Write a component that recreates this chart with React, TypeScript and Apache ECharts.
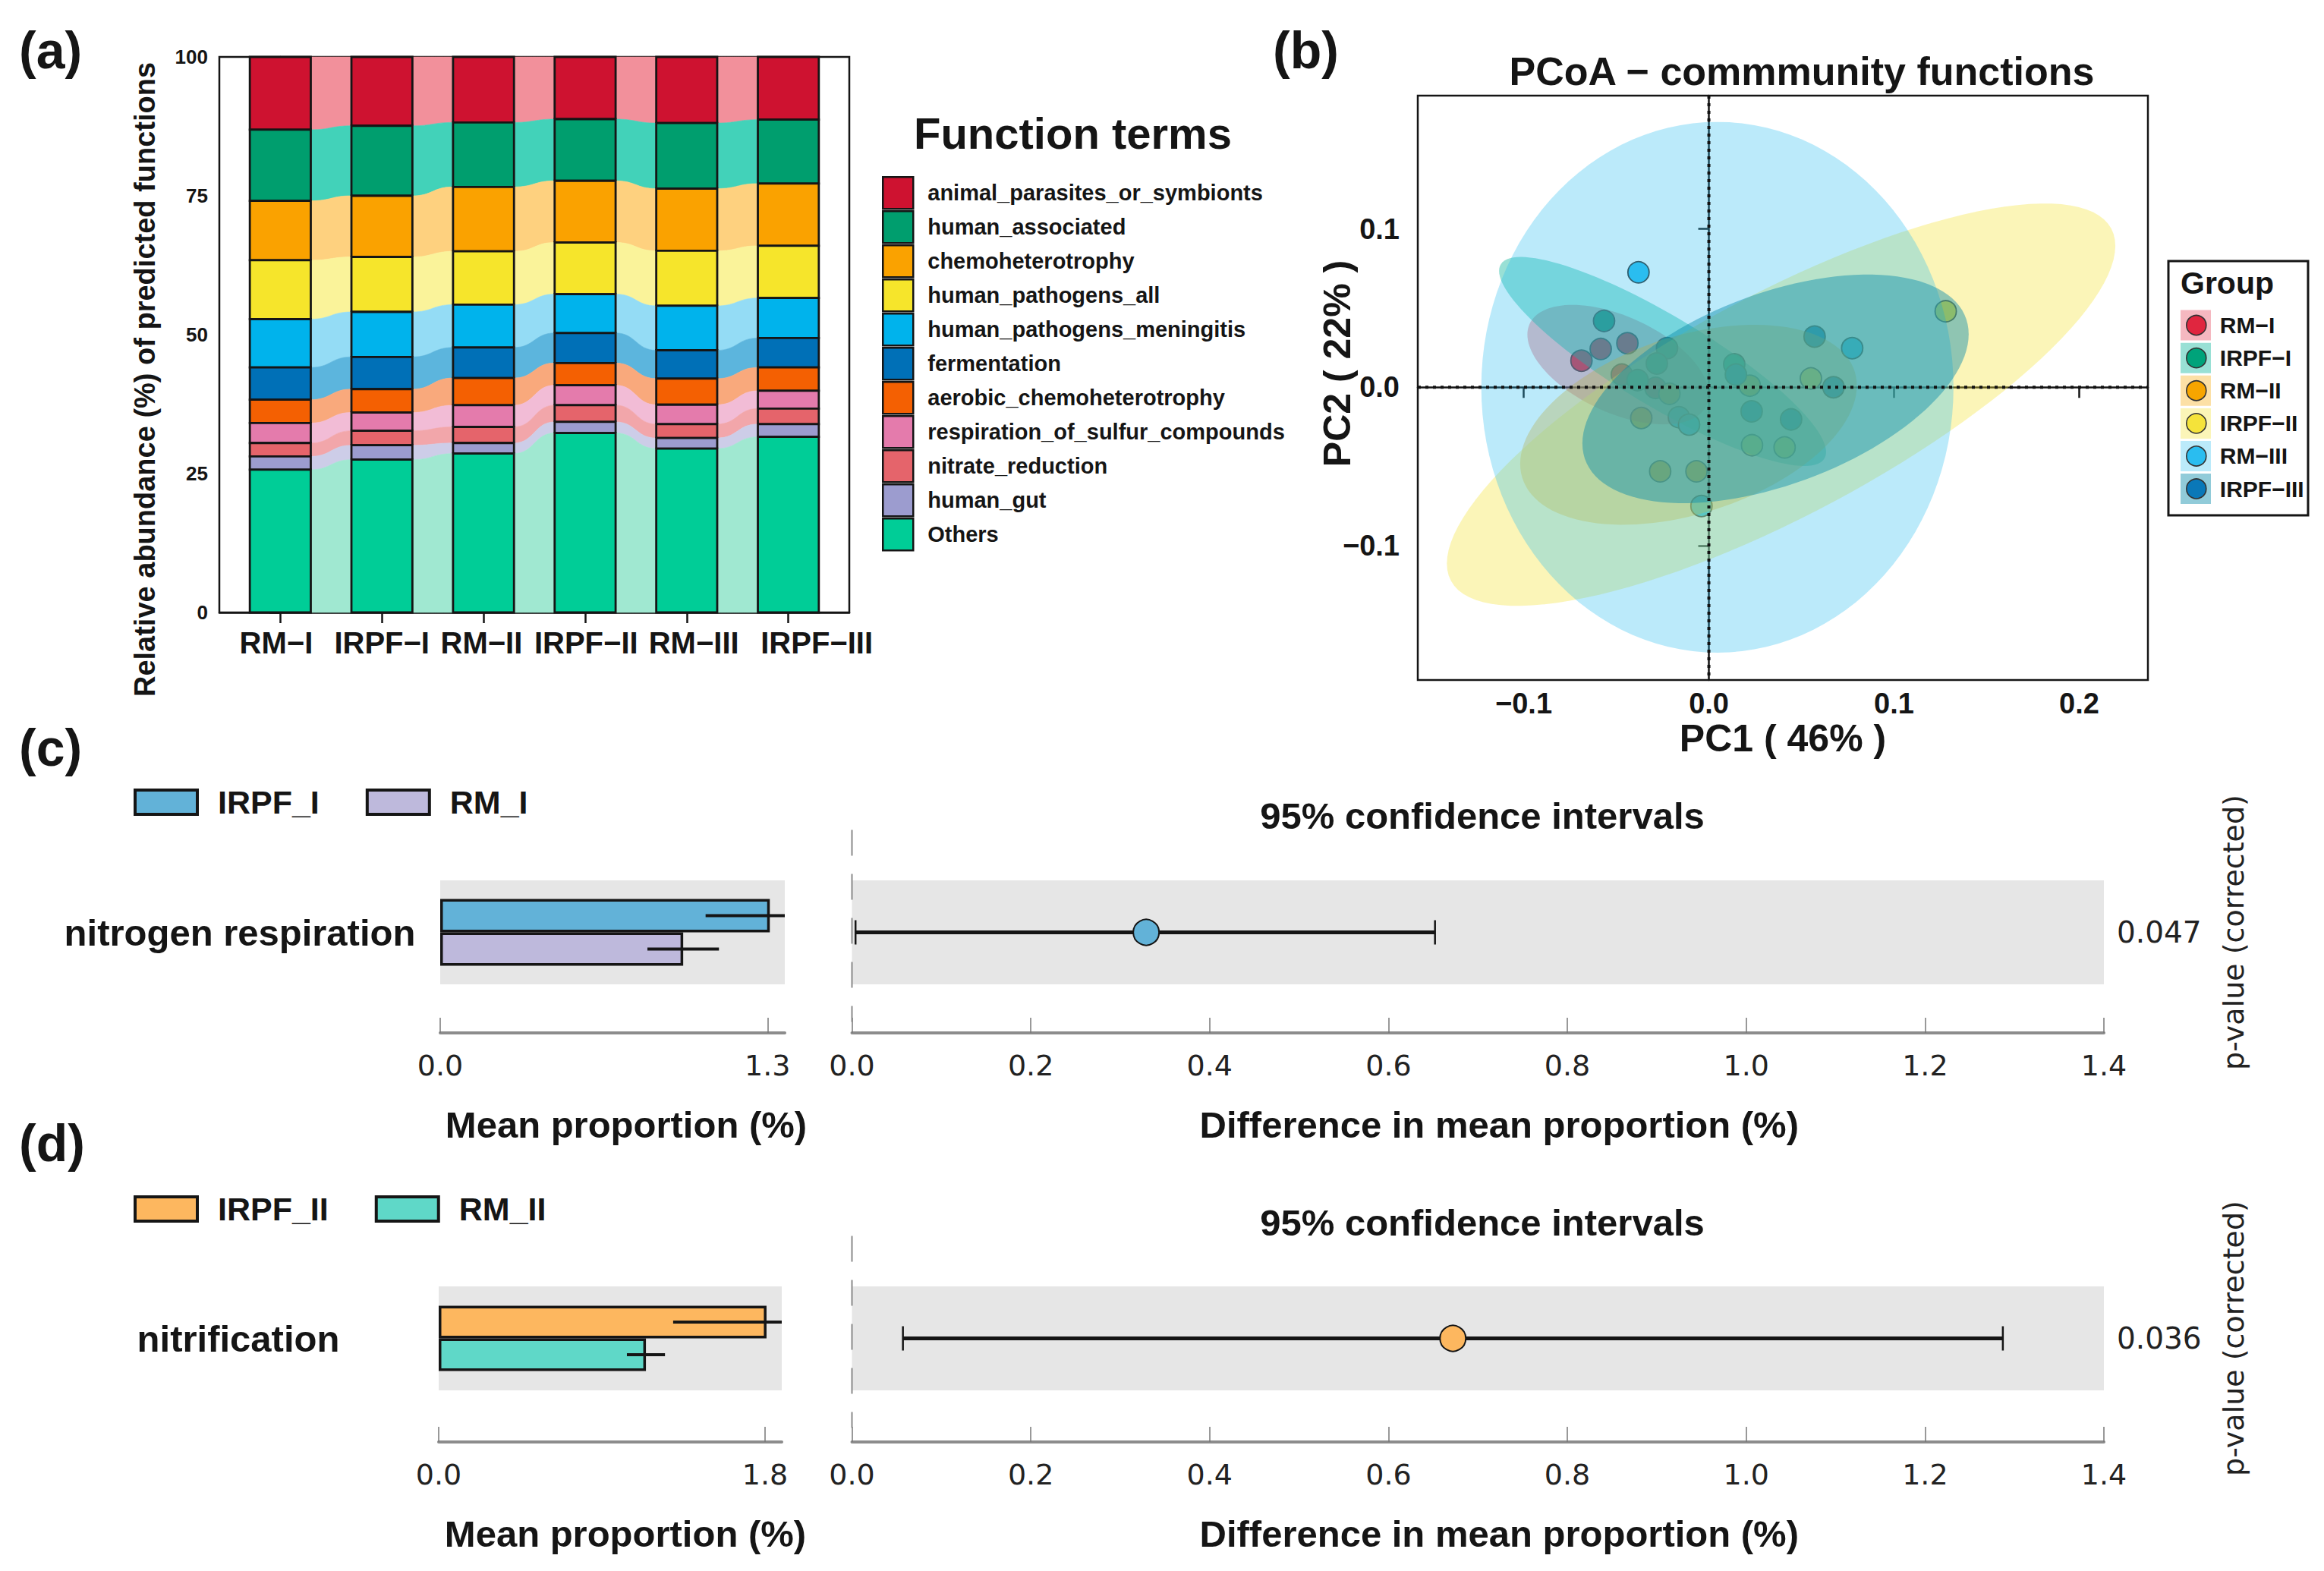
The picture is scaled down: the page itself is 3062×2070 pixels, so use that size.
import React, { useEffect, useRef } from 'react';
import * as echarts from 'echarts';

const SANS = '"Liberation Sans", Arial, Helvetica, sans-serif';
const DEJAVU = '"DejaVu Sans", Verdana, sans-serif';
const INK = '#151515';

// ---------------- (a) stacked functional profile ----------------
const SAMPLES = ['RM\u2212I', 'IRPF\u2212I', 'RM\u2212II', 'IRPF\u2212II', 'RM\u2212III', 'IRPF\u2212III'];
const TERMS = [
  'animal_parasites_or_symbionts',
  'human_associated',
  'chemoheterotrophy',
  'human_pathogens_all',
  'human_pathogens_meningitis',
  'fermentation',
  'aerobic_chemoheterotrophy',
  'respiration_of_sulfur_compounds',
  'nitrate_reduction',
  'human_gut',
  'Others',
];
const TERM_COLORS = ['#CE1230', '#009E6E', '#FAA200', '#F6E52B', '#00B3EC', '#0070B7', '#F46002', '#E47BAC', '#E5646B', '#9C9CCF', '#00CD97'];
const LINK_COLORS = ['#F2909B', '#42D2B9', '#FED17F', '#FAF39A', '#94DCF5', '#5CB5DD', '#F9A97C', '#F2BCD6', '#F2A6AA', '#CDCDE8', '#A0E8D1'];

const ANIMAL = [13.1, 12.4, 11.8, 11.2, 11.9, 11.3];
const HUMAN_ASSOC = [12.8, 12.6, 11.6, 11.1, 11.8, 11.5];
const CHEMO = [10.7, 11.0, 11.6, 11.1, 11.2, 11.2];
const PATHOGENS_ALL = [10.6, 9.9, 9.6, 9.3, 9.9, 9.4];
const MENINGITIS = [8.7, 8.1, 7.7, 7.0, 8.0, 7.2];
const FERMENTATION = [5.8, 5.8, 5.5, 5.4, 5.1, 5.3];
const AEROBIC = [4.2, 4.2, 4.9, 4.0, 4.7, 4.2];
const SULFUR = [3.6, 3.3, 3.9, 3.6, 3.5, 3.2];
const NITRATE = [2.4, 2.6, 2.9, 3.0, 2.5, 2.8];
const GUT = [2.4, 2.6, 1.9, 2.0, 1.9, 2.3];
const OTHERS = [25.7, 27.5, 28.6, 32.3, 29.5, 31.6];
const ABUNDANCE = [ANIMAL, HUMAN_ASSOC, CHEMO, PATHOGENS_ALL, MENINGITIS, FERMENTATION, AEROBIC, SULFUR, NITRATE, GUT, OTHERS];
const A_Y_TICKS = 25;
// where the sample labels sit along the x scale (the reference spreads the last two labels)
const A_LABEL_POS = [-0.04, 1, 1.98, 3.01, 4.07, 5.28];

// ---------------- (b) PCoA ----------------
const GROUPS = ['RM\u2212I', 'IRPF\u2212I', 'RM\u2212II', 'IRPF\u2212II', 'RM\u2212III', 'IRPF\u2212III'];
const GROUP_COLORS = ['#E0263F', '#00A37A', '#F7A500', '#F5E33A', '#2ABDF0', '#0A78B8'];
const ELLIPSE_FILLS = [
  'rgba(224,38,63,0.33)',
  'rgba(0,178,150,0.40)',
  'rgba(247,165,0,0.35)',
  'rgba(245,227,58,0.36)',
  'rgba(42,189,240,0.32)',
  'rgba(10,140,170,0.45)',
];
const PTS_RM_I = [[-0.0584, 0.0242], [-0.044, 0.0278], [-0.0688, 0.0168], [-0.0288, -0.0004], [-0.047, 0.008]];
const PTS_IRPF_I = [[-0.0566, 0.0419], [-0.0226, 0.0247], [-0.0281, 0.015], [-0.0385, 0.0045], [0.0137, 0.0145]];
const PTS_RM_II = [[-0.0365, -0.0194], [-0.0263, -0.0531], [-0.0067, -0.0531], [-0.0213, -0.0041], [0.0221, 0.001]];
const PTS_IRPF_II = [[0.1279, 0.048], [0.0551, 0.0056], [0.0233, -0.0366], [0.0409, -0.038]];
const PTS_RM_III = [[-0.038, 0.0726], [-0.004, -0.075], [0.0774, 0.0247], [-0.0162, -0.0189], [-0.0107, -0.0236]];
const PTS_IRPF_III = [[0.0571, 0.032], [0.0673, 0.0], [0.0444, -0.0203], [0.0231, -0.0152], [0.0146, 0.008]];
const PCOA_POINTS = [PTS_RM_I, PTS_IRPF_I, PTS_RM_II, PTS_IRPF_II, PTS_RM_III, PTS_IRPF_III];
// ellipse: centre x, centre y, semi-diameter u (x,y), conjugate semi-diameter v (x,y)
const ELLIPSES = [
  [-0.049, 0.0143, 0.049, -0.019, 0, 0.0326],
  [-0.025, 0.0163, 0.0883, -0.0572, 0, 0.0329],
  [-0.011, -0.0237, 0.0909, 0.0247, 0, 0.0581],
  [0.039, -0.011, 0.1805, 0.1003, 0, 0.078],
  [0.0046, 0.0, 0.1275, 0.0, 0, 0.1676],
  [0.036, -0.001, 0.1043, 0.0345, 0, 0.0634],
];
const PC1_TICKS = [-0.1, 0, 0.1, 0.2];
const PC2_TICKS = [-0.1, 0, 0.1];

// ---------------- (c) / (d) STAMP ----------------
const C_GROUPS = ['IRPF_I', 'RM_I'];
const C_COLORS = ['#62B2D8', '#BEB9DC'];
const C_MEANS = [1.309, 0.965];
const C_SD = [0.255, 0.142];
const C_FEATURE = 'nitrogen respiration';
const C_DIFF = [0.329, 0.004, 0.652];
const C_P = '0.047';
const C_MAX = 1.3685;
const C_TICKS = [0, 1.3];

const D_GROUPS = ['IRPF_II', 'RM_II'];
const D_COLORS = ['#FDB75F', '#5FD8C8'];
const D_MEANS = [1.808, 1.143];
const D_SD = [0.515, 0.105];
const D_FEATURE = 'nitrification';
const D_DIFF = [0.672, 0.057, 1.287];
const D_P = '0.036';
const D_MAX = 1.892;
const D_TICKS = [0, 1.8];

const DIFF_TICKS = 0.2;

const HALF = 0.3;
const fmt1 = (v: number) => (v < 0 ? '\u2212' + Math.abs(v).toFixed(1) : v.toFixed(1));

function buildOption() {
  const nT = TERMS.length;
  const STACK = TERMS.map((_, k) =>
    SAMPLES.map((__, i) => {
      let lo = 0;
      for (let q = nT - 1; q > k; q--) lo += ABUNDANCE[q][i];
      return [lo, lo + ABUNDANCE[k][i]];
    })
  );

  const seriesA = TERMS.map((name, k) => ({
    type: 'custom',
    name,
    xAxisIndex: 0,
    yAxisIndex: 0,
    z: 2,
    itemStyle: { color: TERM_COLORS[k] },
    encode: { x: 0, y: 2 },
    data: SAMPLES.map((__, i) => {
      const [lo, hi] = STACK[k][i];
      const nx = STACK[k][Math.min(i + 1, SAMPLES.length - 1)];
      return [i, lo, hi, nx[0], nx[1]];
    }),
    renderItem: (params: any, api: any) => {
      const i = api.value(0);
      const lo = api.value(1);
      const hi = api.value(2);
      const bl = api.coord([i - HALF, lo]);
      const tr = api.coord([i + HALF, hi]);
      const children: any[] = [];
      if (i < SAMPLES.length - 1) {
        const nlo = api.value(3);
        const nhi = api.value(4);
        const a = api.coord([i + HALF, hi]);
        const b = api.coord([i + 1 - HALF, nhi]);
        const c = api.coord([i + 1 - HALF, nlo]);
        const d = api.coord([i + HALF, lo]);
        const mx = (a[0] + b[0]) / 2;
        children.push({
          type: 'path',
          shape: {
            pathData: `M${a[0]},${a[1]} C${mx},${a[1]} ${mx},${b[1]} ${b[0]},${b[1]} L${c[0]},${c[1]} C${mx},${c[1]} ${mx},${d[1]} ${d[0]},${d[1]} Z`,
          },
          style: { fill: LINK_COLORS[k], stroke: LINK_COLORS[k], lineWidth: 0.6 },
        });
      }
      children.push({
        type: 'rect',
        shape: { x: bl[0], y: tr[1], width: tr[0] - bl[0], height: bl[1] - tr[1] },
        style: { fill: TERM_COLORS[k], stroke: INK, lineWidth: 2.8 },
      });
      return { type: 'group', children };
    },
  }));

  const seriesBPoints = GROUPS.map((g, j) => ({
    type: 'scatter',
    name: g,
    xAxisIndex: 1,
    yAxisIndex: 1,
    z: 2,
    symbolSize: 28,
    data: PCOA_POINTS[j],
    itemStyle: { color: GROUP_COLORS[j], borderColor: '#333333', borderWidth: 1.8, opacity: 1 },
  }));

  const seriesBEll = GROUPS.map((g, j) => ({
    type: 'custom',
    name: g + ' ellipse',
    xAxisIndex: 1,
    yAxisIndex: 1,
    z: 3,
    itemStyle: { color: ELLIPSE_FILLS[j] },
    encode: { x: 0, y: 1 },
    data: [ELLIPSES[j]],
    renderItem: (params: any, api: any) => {
      const cx = api.value(0), cy = api.value(1), ux = api.value(2), uy = api.value(3), vx = api.value(4), vy = api.value(5);
      const pts: number[][] = [];
      const N = 120;
      for (let s = 0; s < N; s++) {
        const t = (s / N) * Math.PI * 2;
        pts.push(api.coord([cx + ux * Math.cos(t) + vx * Math.sin(t), cy + uy * Math.cos(t) + vy * Math.sin(t)]));
      }
      return { type: 'polygon', shape: { points: pts }, style: { fill: ELLIPSE_FILLS[j] } };
    },
  }));

  const seriesBRef = {
    type: 'custom',
    xAxisIndex: 1,
    yAxisIndex: 1,
    z: 4,
    encode: { x: 0, y: 1 },
    data: [[0, 0]],
    renderItem: (params: any, api: any) => {
      const o = api.coord([api.value(0), api.value(1)]);
      const cs = params.coordSys;
      const st = { stroke: '#111111', lineWidth: 4, lineDash: [4, 6], lineCap: 'butt' };
      return {
        type: 'group',
        children: [
          { type: 'line', shape: { x1: o[0], y1: cs.y, x2: o[0], y2: cs.y + cs.height }, style: st },
          { type: 'line', shape: { x1: cs.x, y1: o[1], x2: cs.x + cs.width, y2: o[1] }, style: st },
        ],
      };
    },
  };

  // STAMP builder
  const stamp = (
    gl: number,
    gr: number,
    groups: string[],
    colors: string[],
    means: number[],
    sds: number[],
    diff: number[],
    barW: number
  ) => {
    const bars = groups.map((g, j) => ({
      type: 'bar',
      name: g,
      xAxisIndex: gl,
      yAxisIndex: gl,
      barWidth: barW,
      barGap: '0%',
      data: [means[j]],
      itemStyle: { color: colors[j], borderColor: INK, borderWidth: 3.5 },
      z: 2,
    }));
    const err = {
      type: 'custom',
      xAxisIndex: gl,
      yAxisIndex: gl,
      z: 3,
      encode: { x: 0, y: 1 },
      data: groups.map((g, j) => [means[j], 0, sds[j], j === 0 ? -1 : 1]),
      renderItem: (params: any, api: any) => {
        const m = api.value(0), sd = api.value(2), slot = api.value(3);
        const cs = params.coordSys;
        const p1 = api.coord([m - sd, 0]);
        const p2 = api.coord([m + sd, 0]);
        const y = p1[1] + (slot * barW) / 2;
        const x2 = Math.min(p2[0], cs.x + cs.width);
        return { type: 'line', shape: { x1: p1[0], y1: y, x2, y2: y }, style: { stroke: INK, lineWidth: 4 } };
      },
    };
    const zero = {
      type: 'custom',
      xAxisIndex: gr,
      yAxisIndex: gr,
      z: 3,
      encode: { x: 0, y: 1 },
      data: [[0, 0]],
      renderItem: (params: any, api: any) => {
        const o = api.coord([api.value(0), api.value(1)]);
        return {
          type: 'line',
          shape: { x1: o[0], y1: o[1] - 135, x2: o[0], y2: o[1] + 118 },
          style: { stroke: '#8a8a8a', lineWidth: 2, lineDash: [34, 24] },
        };
      },
    };
    const ci = {
      type: 'custom',
      xAxisIndex: gr,
      yAxisIndex: gr,
      z: 4,
      encode: { x: 0, y: 1 },
      data: [[diff[0], 0, diff[1], diff[2]]],
      renderItem: (params: any, api: any) => {
        const m = api.coord([api.value(0), 0]);
        const l = api.coord([api.value(2), 0]);
        const h = api.coord([api.value(3), 0]);
        const y = m[1];
        return {
          type: 'group',
          children: [
            { type: 'line', shape: { x1: l[0], y1: y, x2: h[0], y2: y }, style: { stroke: INK, lineWidth: 5 } },
            { type: 'line', shape: { x1: l[0], y1: y - 16, x2: l[0], y2: y + 16 }, style: { stroke: INK, lineWidth: 2.5 } },
            { type: 'line', shape: { x1: h[0], y1: y - 16, x2: h[0], y2: y + 16 }, style: { stroke: INK, lineWidth: 2.5 } },
            { type: 'circle', shape: { cx: m[0], cy: y, r: 17 }, style: { fill: colors[0], stroke: INK, lineWidth: 2 } },
          ],
        };
      },
    };
    return [...bars, err, zero, ci];
  };

  const stampAxisX = (gi: number, max: number, ticks: number[] | null, offset: number, name: string, shift: number) => {
    const ax: any = {
      type: 'value',
      gridIndex: gi,
      min: 0,
      max,
      offset,
      axisLine: { show: true, lineStyle: { color: '#8c8c8c', width: 4 } },
      axisTick: { show: true, inside: true, length: 20, lineStyle: { color: '#777', width: 1.5 } },
      axisLabel: { show: true, margin: 24, fontFamily: DEJAVU, fontSize: 38, color: '#222', formatter: (v: number) => v.toFixed(1) },
      splitLine: { show: false },
      name,
      nameLocation: 'middle',
      nameGap: 96,
      nameTextStyle: { fontFamily: SANS, fontWeight: 'bold', fontSize: 49, color: INK, padding: [0, 0, 0, shift] },
    };
    if (ticks) {
      ax.axisTick.customValues = ticks;
      ax.axisLabel.customValues = ticks;
    } else {
      ax.interval = DIFF_TICKS;
    }
    return ax;
  };

  const stampAxisYLeft = (gi: number, feature: string, dropPx: number) => ({
    type: 'category',
    gridIndex: gi,
    data: [feature],
    axisLine: { show: false },
    axisTick: { show: false },
    splitLine: { show: false },
    axisLabel: {
      margin: 264,
      align: 'center',
      fontFamily: SANS,
      fontWeight: 'bold',
      fontSize: 49,
      color: INK,
      padding: [dropPx * 2, 0, 0, 0],
    },
  });
  const stampAxisYRight = (gi: number, p: string) => ({
    type: 'category',
    gridIndex: gi,
    position: 'right',
    data: [p],
    axisLine: { show: false },
    axisTick: { show: false },
    splitLine: { show: false },
    axisLabel: { margin: 17, fontFamily: DEJAVU, fontSize: 39, color: '#222' },
    name: 'p-value (corrected)',
    nameLocation: 'middle',
    nameRotate: 90,
    nameGap: 152,
    nameTextStyle: { fontFamily: DEJAVU, fontSize: 38, color: '#222' },
  });

  const blackAxis = { show: true, lineStyle: { color: INK, width: 2.5 } };
  const labelBold = (size: number) => ({ fontFamily: SANS, fontWeight: 'bold', fontSize: size, color: INK });

  const txt = (text: string, x: number, y: number, size: number, opts: any = {}) => ({
    type: 'text',
    x,
    y,
    rotation: opts.rotation || 0,
    z: 100,
    style: {
      text,
      fill: opts.fill || INK,
      font: `${opts.weight || 'bold'} ${size}px ${opts.family || SANS}`,
      textAlign: opts.align || 'left',
      textVerticalAlign: 'middle',
    },
  });

  return {
    animation: false,
    backgroundColor: '#ffffff',
    grid: [
      { left: 289, top: 75, width: 830, height: 732, show: true, borderColor: INK, borderWidth: 2.5, backgroundColor: 'transparent' },
      { left: 1868, top: 126, width: 962, height: 770, show: true, borderColor: INK, borderWidth: 2.5, backgroundColor: 'transparent' },
      { left: 580, top: 1160, width: 454, height: 137, show: true, backgroundColor: '#e6e6e6', borderWidth: 0 },
      { left: 1122.5, top: 1160, width: 1649.5, height: 137, show: true, backgroundColor: '#e6e6e6', borderWidth: 0 },
      { left: 578, top: 1695, width: 452, height: 137, show: true, backgroundColor: '#e6e6e6', borderWidth: 0 },
      { left: 1122.5, top: 1695, width: 1649.5, height: 137, show: true, backgroundColor: '#e6e6e6', borderWidth: 0 },
    ],
    xAxis: [
      {
        type: 'value',
        gridIndex: 0,
        min: -0.6,
        max: 5.6,
        axisLine: blackAxis,
        axisTick: { show: true, length: 14, customValues: SAMPLES.map((_, i) => i), lineStyle: { color: INK, width: 2.5 } },
        axisLabel: { customValues: A_LABEL_POS, formatter: (v: number) => SAMPLES[Math.round(v)], margin: 20, ...labelBold(40) },
        splitLine: { show: false },
      },
      {
        type: 'value',
        gridIndex: 1,
        min: -0.1572,
        max: 0.2371,
        axisLine: blackAxis,
        axisTick: { show: true, length: 14, customValues: PC1_TICKS, lineStyle: { color: INK, width: 2.5 } },
        axisLabel: { customValues: PC1_TICKS, formatter: fmt1, margin: 12, ...labelBold(38) },
        splitLine: { show: false },
        name: 'PC1 ( 46% )',
        nameLocation: 'middle',
        nameGap: 52,
        nameTextStyle: labelBold(50),
      },
      stampAxisX(2, C_MAX, C_TICKS, 64, 'Mean proportion (%)', 36),
      stampAxisX(3, 1.4, null, 64, 'Difference in mean proportion (%)', 56),
      stampAxisX(4, D_MAX, D_TICKS, 68, 'Mean proportion (%)', 40),
      stampAxisX(5, 1.4, null, 68, 'Difference in mean proportion (%)', 56),
    ],
    yAxis: [
      {
        type: 'value',
        gridIndex: 0,
        min: 0,
        max: 100,
        interval: A_Y_TICKS,
        axisLine: blackAxis,
        axisTick: { show: true, length: 14, lineStyle: { color: INK, width: 2.5 } },
        axisLabel: { margin: 15, ...labelBold(26) },
        splitLine: { show: false },
      },
      {
        type: 'value',
        gridIndex: 1,
        min: -0.1849,
        max: 0.1842,
        axisLine: blackAxis,
        axisTick: { show: true, length: 14, customValues: PC2_TICKS, lineStyle: { color: INK, width: 2.5 } },
        axisLabel: { customValues: PC2_TICKS, formatter: fmt1, margin: 24, ...labelBold(38) },
        splitLine: { show: false },
      },
      stampAxisYLeft(2, C_FEATURE, 9),
      stampAxisYRight(3, C_P),
      stampAxisYLeft(4, D_FEATURE, 0),
      stampAxisYRight(5, D_P),
    ],
    legend: [
      {
        data: TERMS,
        orient: 'vertical',
        left: 1162,
        top: 232,
        padding: 0,
        itemWidth: 40,
        itemHeight: 42,
        itemGap: 0.5,
        icon: 'rect',
        selectedMode: false,
        itemStyle: { borderColor: INK, borderWidth: 2.5 },
        textStyle: { ...labelBold(29), lineHeight: 34, padding: [0, 0, 0, 14] },
      },
      {
        data: GROUPS.map((g) => g + ' ellipse'),
        orient: 'vertical',
        left: 2873,
        top: 408.6,
        padding: 0,
        itemWidth: 40,
        itemHeight: 40,
        itemGap: 3.1,
        icon: 'rect',
        selectedMode: false,
        formatter: () => '',
        itemStyle: { borderWidth: 0 },
      },
      {
        data: GROUPS,
        orient: 'vertical',
        left: 2880,
        top: 407,
        padding: 0,
        itemWidth: 26,
        itemHeight: 26,
        itemGap: 0,
        icon: 'circle',
        selectedMode: false,
        itemStyle: { borderColor: '#333', borderWidth: 1.6 },
        textStyle: { ...labelBold(30), lineHeight: 43.1, padding: [0, 0, 0, 13] },
      },
      {
        data: C_GROUPS,
        orient: 'horizontal',
        left: 176,
        top: 1032,
        padding: 0,
        itemWidth: 82,
        itemHeight: 32,
        itemGap: 61,
        icon: 'rect',
        selectedMode: false,
        itemStyle: { borderColor: INK, borderWidth: 4 },
        textStyle: { ...labelBold(43), lineHeight: 50, padding: [0, 0, 0, 22] },
      },
      {
        data: D_GROUPS,
        orient: 'horizontal',
        left: 176,
        top: 1568,
        padding: 0,
        itemWidth: 82,
        itemHeight: 32,
        itemGap: 61,
        icon: 'rect',
        selectedMode: false,
        itemStyle: { borderColor: INK, borderWidth: 4 },
        textStyle: { ...labelBold(43), lineHeight: 50, padding: [0, 0, 0, 22] },
      },
    ],
    graphic: [
      txt('(a)', 25, 66, 68),
      txt('(b)', 1677, 66, 68),
      txt('(c)', 25, 985, 68),
      txt('(d)', 25, 1506, 68),
      txt('Relative abundance (%) of predicted functions', 191, 500, 38, { align: 'center', rotation: Math.PI / 2 }),
      txt('Function terms', 1204, 175, 58),
      txt('PCoA \u2212 commmunity functions', 2374, 94, 52, { align: 'center' }),
      txt('PC2 ( 22% )', 1762, 479, 50, { align: 'center', rotation: Math.PI / 2 }),
      {
        type: 'rect',
        shape: { x: 2857, y: 344, width: 184, height: 335 },
        style: { fill: 'none', stroke: INK, lineWidth: 3 },
        z: 100,
      },
      txt('Group', 2873, 373, 41),
      txt('95% confidence intervals', 1953, 1075, 49, { align: 'center' }),
      txt('95% confidence intervals', 1953, 1611, 49, { align: 'center' }),
    ],
    series: [
      ...seriesA,
      ...seriesBPoints,
      ...seriesBEll,
      seriesBRef,
      ...stamp(2, 3, C_GROUPS, C_COLORS, C_MEANS, C_SD, C_DIFF, 44),
      ...stamp(4, 5, D_GROUPS, D_COLORS, D_MEANS, D_SD, D_DIFF, 43),
    ],
  };
}

export default function App() {
  const ref = useRef<HTMLDivElement>(null);
  useEffect(() => {
    document.body.style.margin = '0';
    if (!ref.current) return;
    const chart = echarts.init(ref.current, null, { renderer: 'svg', width: 3062, height: 2070 });
    chart.setOption(buildOption() as any);
    return () => {
      chart.dispose();
    };
  }, []);
  return <div ref={ref} style={{ width: 3062, height: 2070 }} />;
}
